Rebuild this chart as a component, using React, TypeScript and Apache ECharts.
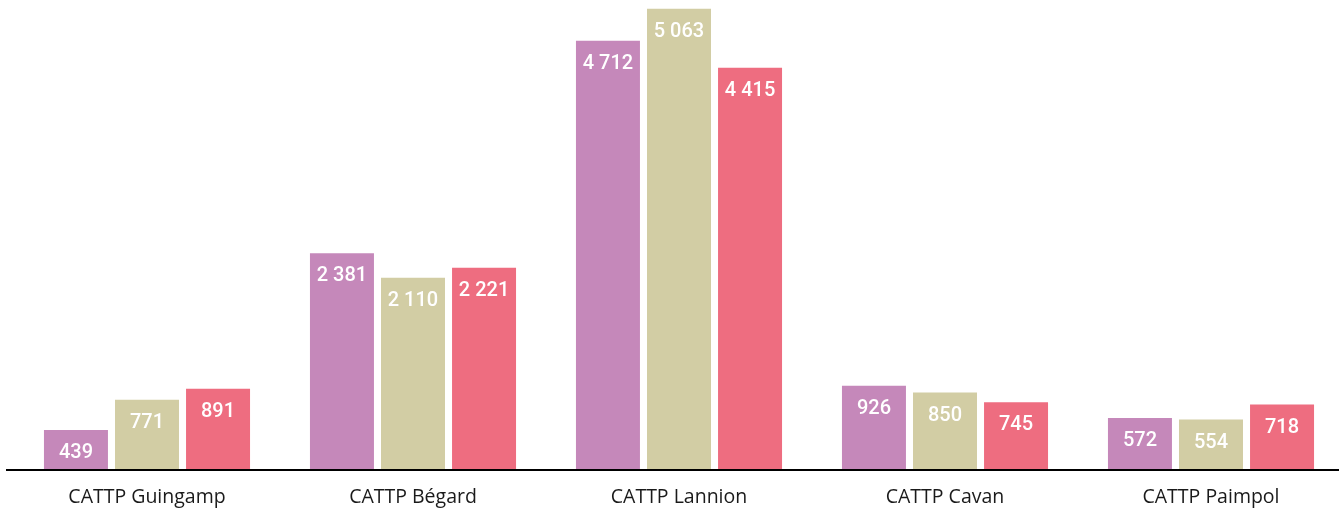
import React, { useEffect, useRef } from "react";
import * as echarts from "echarts";

const categories = ["CATTP Guingamp", "CATTP Bégard", "CATTP Lannion", "CATTP Cavan", "CATTP Paimpol"];
const series1 = [439, 2381, 4712, 926, 572];
const series2 = [771, 2110, 5063, 850, 554];
const series3 = [891, 2221, 4415, 745, 718];
const colors = ["#C588BA", "#D2CDA4", "#EE6D80"];

const fmt = (v: number) => String(v).replace(/\B(?=(\d{3})+(?!\d))/g, " ");

export default function App() {
  const ref = useRef<HTMLDivElement>(null);
  useEffect(() => {
    const chart = echarts.init(ref.current!, null, { renderer: "svg" });
    const mk = (data: number[], color: string) => ({
      type: "bar",
      data,
      barWidth: 64,
      barGap: "11%",
      itemStyle: { color },
      label: {
        show: true,
        position: "insideTop",
        distance: 11,
        color: "#fff",
        fontSize: 20,
        fontWeight: 500,
        fontFamily: "Roboto",
        formatter: (p: any) => fmt(p.value),
      },
    });
    chart.setOption({
      animation: false,
      grid: { left: 14, top: 0, width: 1330, bottom: 40 },
      xAxis: {
        type: "category",
        data: categories,
        axisLine: { show: false },
        axisTick: { show: false },
        axisLabel: { color: "#1a1a1a", fontSize: 19.5, fontFamily: "Open Sans", margin: 15 },
      },
      yAxis: { type: "value", min: 0, max: 5160, show: false, splitLine: { show: false } },
      series: [mk(series1, colors[0]), mk(series2, colors[1]), mk(series3, colors[2])],
      graphic: [
        { type: "rect", shape: { x: 6, y: 469, width: 1333, height: 2 }, style: { fill: "#000" }, z: 100 },
      ],
    });
    return () => chart.dispose();
  }, []);
  return (
    <div style={{ position: "fixed", left: 0, top: 0, width: 1339, height: 510, overflow: "hidden" }}>
      <div ref={ref} style={{ width: 1346, height: 510 }} />
    </div>
  );
}
